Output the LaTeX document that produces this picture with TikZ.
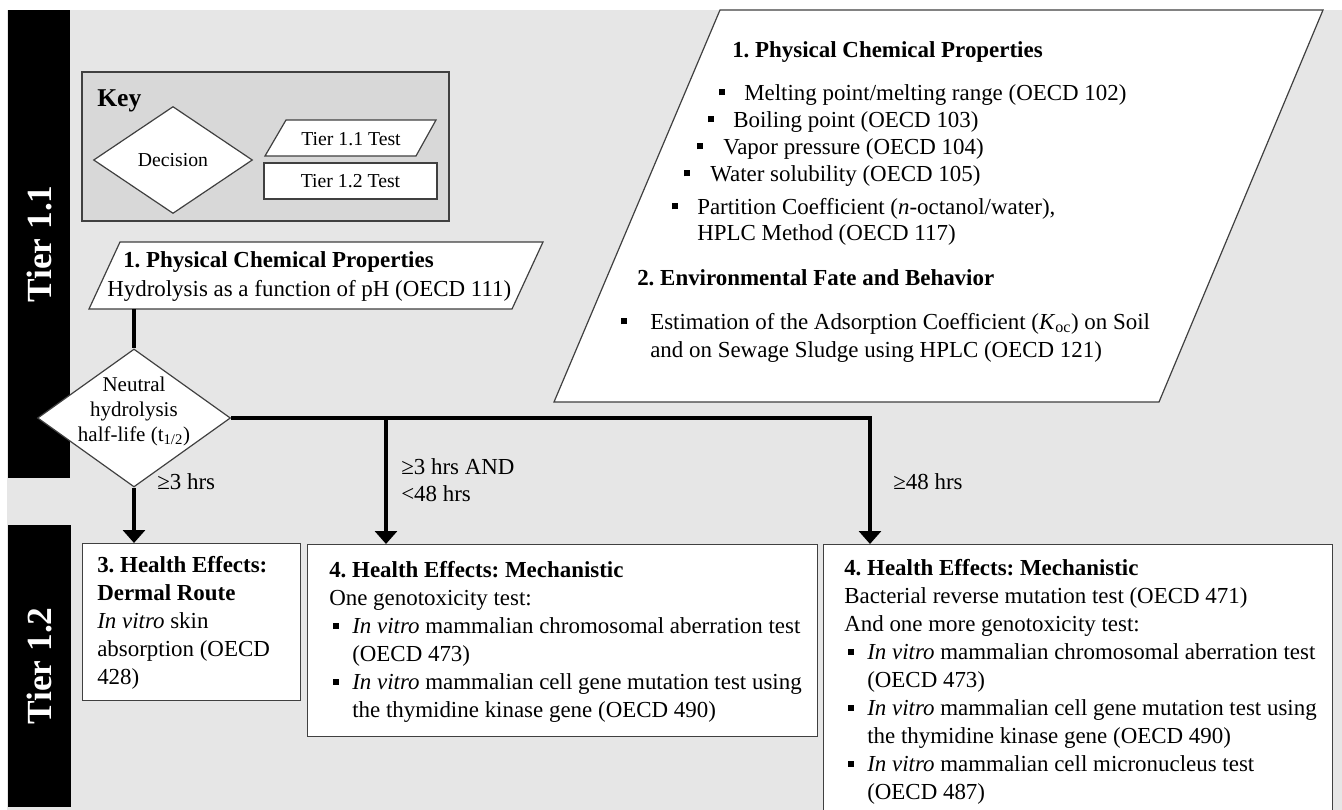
\documentclass[tikz,border=0pt]{standalone}
\usepackage{fontspec}
\setmainfont{Liberation Serif}
\usetikzlibrary{shapes.geometric,arrows.meta}
\definecolor{bggray}{RGB}{230,230,230}
\definecolor{keygray}{RGB}{216,216,216}
\definecolor{edgegray}{RGB}{64,64,64}
\newcommand{\flowfont}{\fontsize{17.2}{21}\selectfont}
\newcommand{\legendfont}{\fontsize{14.8}{18}\selectfont}
\newcommand{\sqbul}[1]{\makebox[#1][l]{\raisebox{0.2em}{\rule{0.27em}{0.27em}}}}
\frenchspacing
\begin{document}
\begin{tikzpicture}[x=0.75pt,y=0.75pt,yscale=-1,
  tierbar/.style={fill=black, text=white, inner sep=0pt, rotate=90, font=\fontsize{26.5}{30}\selectfont\bfseries},
  testbox/.style={draw=edgegray, fill=white, line width=0.9pt, inner sep=0pt, anchor=north west},
  decision/.style={diamond, draw=edgegray, fill=white, line width=0.9pt, inner sep=0pt},
  txt/.style={inner sep=0pt, anchor=base west, font=\flowfont},
  para/.style={inner sep=0pt, anchor=north west, align=left, font=\flowfont},
  link/.style={line width=3pt},
  flow/.style={link, -{Triangle[width=16.5pt,length=9.75pt]}}]
\clip (0,0) rectangle (1342,810);
\fill[white] (0,0) rectangle (1342,810);
\fill[bggray] (7,10) rectangle (1342,810);

% tier bars
\node[tierbar, minimum width=351pt, minimum height=46.5pt] (tierA) at (39,244) {Tier 1.1};
\node[tierbar, minimum width=211.5pt, minimum height=47.25pt] (tierB) at (39.5,666) {Tier 1.2};

% key
\node[draw=edgegray, fill=keygray, line width=0.9pt, minimum width=275.25pt, minimum height=111.75pt] (key) at (265.5,146.5) {};
\node[inner sep=0pt, anchor=base west, font=\fontsize{19.2}{22}\selectfont\bfseries] (keytitle) at (97,106) {Key};
\node[decision, minimum width=119.25pt, minimum height=80.25pt, font=\legendfont] (keydec) at (173,160) {Decision};
\draw[draw=edgegray, fill=white, line width=0.9pt] (286,120) -- (436,120) -- (416,156) -- (265,156) -- cycle;
\node[inner sep=0pt, font=\legendfont] (keypar) at (351,139) {Tier 1.1 Test};
\node[draw=edgegray, fill=white, line width=0.9pt, minimum width=129.75pt, minimum height=27pt, font=\legendfont] (keyrect) at (350.5,181) {Tier 1.2 Test};

% tier 1.1 tests
\draw[draw=edgegray, fill=white, line width=0.9pt] (720,10) -- (1323,10) -- (1159,402) -- (554,402) -- cycle;
\draw[draw=edgegray, fill=white, line width=0.9pt] (120,242) -- (543,242) -- (512,309) -- (89,309) -- cycle;
\coordinate (hydro-s) at (134,309);

% connectors
\coordinate (jA) at (386,418);
\coordinate (jB) at (870,418);
\node[decision, minimum width=144.75pt, minimum height=103.5pt] (halflife) at (134,418) {};
\node[testbox, minimum width=163.5pt, minimum height=117.75pt] (dermal) at (82,543) {};
\node[testbox, minimum width=382.5pt, minimum height=144pt] (mechA) at (307,544) {};
\node[testbox, minimum width=381.75pt, minimum height=214.5pt] (mechB) at (823,544) {};
\draw[link] (hydro-s) -- (halflife.north);
\draw[flow] (halflife.south) -- (halflife.south |- dermal.north);
\draw[flow] (halflife.east) -- (jB) -- (jB |- mechB.north);
\draw[flow] (jA) -- (jA |- mechA.north);

% texts
\node[txt, font=\flowfont\bfseries] (pcptitle) at (732,57) {1. Physical Chemical Properties};
\node[txt] (pcpA) at (719,100) {\sqbul{18.75pt}Melting point/melting range (OECD 102)};
\node[txt] (pcpB) at (708,127) {\sqbul{18.75pt}Boiling point (OECD 103)};
\node[txt] (pcpC) at (697,154) {\sqbul{19.5pt}Vapor pressure (OECD 104)};
\node[txt] (pcpD) at (684,181) {\sqbul{19.5pt}Water solubility (OECD 105)};
\node[txt] (pcpE) at (672,214) {\sqbul{18.75pt}Partition Coefficient (\textit{n}-octanol/water),};
\node[txt] (pcpF) at (697,240) {HPLC Method (OECD 117)};
\node[txt, font=\flowfont\bfseries] (envtitle) at (637,285) {2. Environmental Fate and Behavior};
\node[txt] (envA) at (621,329) {\sqbul{21.75pt}Estimation of the Adsorption Coefficient (\textit{K}\textsubscript{oc}) on Soil};
\node[txt] (envB) at (650,357) {and on Sewage Sludge using HPLC (OECD 121)};

\node[txt, font=\flowfont\bfseries] (hydrotitle) at (123,267) {1. Physical Chemical Properties};
\node[txt] (hydrotxt) at (107,296) {Hydrolysis as a function of pH (OECD 111)};

\node[inner sep=0pt, align=center, font=\fontsize{15.75}{18.75}\selectfont] (halflifetxt) at (134,411) {Neutral\\hydrolysis\\half-life (t\textsubscript{1/2})};

\node[txt] (lblA) at (157,489) {≥3 hrs};
\node[para, font=\fontsize{17.2}{20.25}\selectfont] (lblB) at (401,455) {\strut≥3 hrs AND\\<48 hrs};
\node[txt] (lblC) at (893,489) {≥48 hrs};

\node[para] (dermaltxt) at (97,552.7) {\strut\textbf{3. Health Effects:}\\\textbf{Dermal Route}\\\textit{In vitro} skin\\absorption (OECD\\428)};
\node[para] (mechAtxt) at (329,557.7) {\strut\textbf{4. Health Effects: Mechanistic}\\One genotoxicity test:\\
  \hspace*{3pt}\sqbul{14.25pt}\textit{In vitro} mammalian chromosomal aberration test\\\hspace*{17.25pt}(OECD 473)\\
  \hspace*{3pt}\sqbul{14.25pt}\textit{In vitro} mammalian cell gene mutation test using\\\hspace*{17.25pt}the thymidine kinase gene (OECD 490)};
\node[para] (mechBtxt) at (844,555.7) {\strut\textbf{4. Health Effects: Mechanistic}\\Bacterial reverse mutation test (OECD 471)\\And one more genotoxicity test:\\
  \hspace*{3pt}\sqbul{14.25pt}\textit{In vitro} mammalian chromosomal aberration test\\\hspace*{17.25pt}(OECD 473)\\
  \hspace*{3pt}\sqbul{14.25pt}\textit{In vitro} mammalian cell gene mutation test using\\\hspace*{17.25pt}the thymidine kinase gene (OECD 490)\\
  \hspace*{3pt}\sqbul{14.25pt}\textit{In vitro} mammalian cell micronucleus test\\\hspace*{17.25pt}(OECD 487)};
\end{tikzpicture}
\end{document}
